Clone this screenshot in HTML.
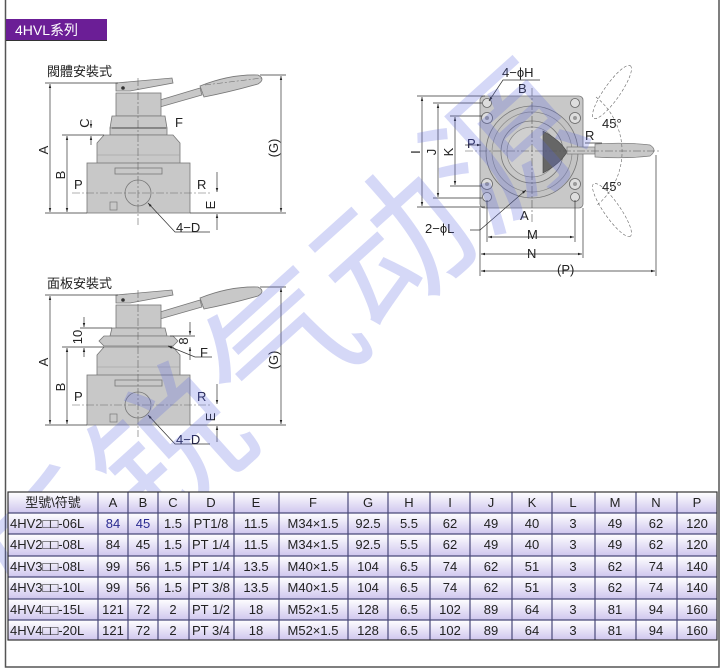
<!DOCTYPE html>
<html><head><meta charset="utf-8">
<style>
html,body{margin:0;padding:0;background:#fff;}
body{width:723px;height:669px;position:relative;overflow:hidden;font-family:"Liberation Sans","Noto Sans CJK TC",sans-serif;}
svg{position:absolute;left:0;top:0;overflow:hidden;}
text{font-family:"Liberation Sans","Noto Sans CJK TC",sans-serif;}
</style></head><body>
<svg width="723" height="669" viewBox="0 0 723 669" xmlns="http://www.w3.org/2000/svg">
<defs>
<linearGradient id="rg" x1="0" y1="0" x2="0" y2="1">
<stop offset="0" stop-color="#ffffff"/><stop offset="1" stop-color="#cfc6ee"/></linearGradient>
<marker id="ar" viewBox="0 0 10 10" refX="10" refY="5" markerWidth="6" markerHeight="6" orient="auto-start-reverse"><path d="M0,2 L10,5 L0,8z" fill="#222"/></marker>
<clipPath id="pg"><rect x="0" y="0" width="723" height="669"/></clipPath>
</defs>
<polyline points="5.5,0 5.5,667 719,667 719,0" fill="none" stroke="#555" stroke-width="1.5"/>
<rect x="6" y="19" width="101" height="21" fill="#6b1e96"/>
<line x1="6" y1="40.5" x2="107" y2="40.5" stroke="#333" stroke-width="1"/>
<text x="15" y="35" font-size="14" fill="#fff">4HVL系列</text>

<g id="valve">
<g fill="#c8c8c8" stroke="#777" stroke-width="0.8">
<path d="M116,83 L172,78 L173,83 L130,91 L116,91z"/>
<path d="M160,100 L200,88 L202,95 L160,107z"/>
<path d="M200,86 Q230,74 258,75 Q266,79 258,84 Q230,92 204,97z"/>
<rect x="116" y="93" width="45" height="23"/>
<path d="M112,116 L165,116 L167,128 L110,128z"/>
<rect x="110" y="128" width="57" height="7"/>
<path d="M104,135 L173,135 L180,143 L180,165 L97,165 L97,143z"/>
<rect x="87" y="163" width="103" height="50"/>
<rect x="115" y="168" width="47" height="6"/>
<circle cx="138" cy="193" r="13" fill="#c8c8c8"/>
</g>
<line x1="97" y1="155" x2="180" y2="155" stroke="#999" stroke-width="0.6"/>
<rect x="110" y="202" width="7" height="8" fill="none" stroke="#777" stroke-width="0.7"/>
<circle cx="123" cy="88" r="1.8" fill="#333"/>
<line x1="138" y1="78" x2="138" y2="225" stroke="#666" stroke-width="0.6" stroke-dasharray="8,2,2,2"/>
<line x1="72" y1="193" x2="210" y2="193" stroke="#666" stroke-width="0.6" stroke-dasharray="8,2,2,2"/>
<line x1="205" y1="85" x2="262" y2="78" stroke="#666" stroke-width="0.5" stroke-dasharray="6,2,2,2"/>
<g stroke="#333" stroke-width="0.7" fill="none">
<line x1="45" y1="83" x2="118" y2="83"/>
<line x1="45" y1="213" x2="87" y2="213"/>
<line x1="50" y1="84" x2="50" y2="212" marker-start="url(#ar)" marker-end="url(#ar)"/>
<line x1="62" y1="135" x2="104" y2="135"/>
<line x1="67" y1="136" x2="67" y2="212" marker-start="url(#ar)" marker-end="url(#ar)"/>
<line x1="91" y1="120" x2="91" y2="128" marker-end="url(#ar)"/>
<line x1="91" y1="145" x2="91" y2="136" marker-end="url(#ar)"/>
<line x1="260" y1="75" x2="286" y2="75"/>
<line x1="190" y1="213" x2="286" y2="213"/>
<line x1="281" y1="76" x2="281" y2="212" marker-start="url(#ar)" marker-end="url(#ar)"/>
<line x1="217" y1="172" x2="217" y2="192" marker-end="url(#ar)"/>
<line x1="217" y1="230" x2="217" y2="214" marker-end="url(#ar)"/>
<line x1="112" y1="128" x2="166" y2="128"/>
<polyline points="210,232 175,232 148,203" marker-end="url(#ar)"/>
</g>
<g font-size="13" fill="#222">
<text x="74" y="189">P</text><text x="197" y="189">R</text>
<text x="175" y="127">F</text><text x="176" y="232">4−D</text>
<text transform="translate(48,150) rotate(-90)" text-anchor="middle">A</text>
<text transform="translate(65,175) rotate(-90)" text-anchor="middle">B</text>
<text transform="translate(89,123) rotate(-90)" text-anchor="middle">C</text>
<text transform="translate(215,205) rotate(-90)" text-anchor="middle">E</text>
<text transform="translate(278,148) rotate(-90)" text-anchor="middle">(G)</text>
</g>
</g>
<text x="47" y="76" font-size="13" fill="#222">閥體安裝式</text>

<g transform="translate(0,212)">
<g fill="#c8c8c8" stroke="#777" stroke-width="0.8">
<path d="M116,83 L172,78 L173,83 L130,91 L116,91z"/>
<path d="M160,100 L200,88 L202,95 L160,107z"/>
<path d="M200,86 Q230,74 258,75 Q266,79 258,84 Q230,92 204,97z"/>
<rect x="116" y="93" width="45" height="23"/>
<path d="M112,116 L165,116 L167,124 L110,124z"/>
<path d="M104,124 L173,124 L178,129 L173,134 L104,134 L99,129z"/>
<path d="M104,135 L173,135 L180,143 L180,165 L97,165 L97,143z"/>
<rect x="87" y="163" width="103" height="50"/>
<rect x="115" y="168" width="47" height="6"/>
<circle cx="138" cy="193" r="13"/>
</g>
<line x1="97" y1="155" x2="180" y2="155" stroke="#999" stroke-width="0.6"/>
<rect x="110" y="202" width="7" height="8" fill="none" stroke="#777" stroke-width="0.7"/>
<circle cx="123" cy="88" r="1.8" fill="#333"/>
<line x1="138" y1="78" x2="138" y2="225" stroke="#666" stroke-width="0.6" stroke-dasharray="8,2,2,2"/>
<line x1="72" y1="193" x2="210" y2="193" stroke="#666" stroke-width="0.6" stroke-dasharray="8,2,2,2"/>
<g stroke="#333" stroke-width="0.7" fill="none">
<line x1="45" y1="83" x2="118" y2="83"/>
<line x1="45" y1="213" x2="87" y2="213"/>
<line x1="50" y1="84" x2="50" y2="212" marker-start="url(#ar)" marker-end="url(#ar)"/>
<line x1="62" y1="135" x2="104" y2="135"/>
<line x1="67" y1="136" x2="67" y2="212" marker-start="url(#ar)" marker-end="url(#ar)"/>
<line x1="80" y1="116" x2="112" y2="116"/>
<line x1="84" y1="105" x2="84" y2="115" marker-end="url(#ar)"/>
<line x1="84" y1="145" x2="84" y2="136" marker-end="url(#ar)"/>
<line x1="170" y1="124" x2="195" y2="124"/>
<line x1="190" y1="110" x2="190" y2="123" marker-end="url(#ar)"/>
<line x1="190" y1="148" x2="190" y2="135" marker-end="url(#ar)"/>
<line x1="260" y1="75" x2="286" y2="75"/>
<line x1="190" y1="213" x2="286" y2="213"/>
<line x1="281" y1="76" x2="281" y2="212" marker-start="url(#ar)" marker-end="url(#ar)"/>
<line x1="217" y1="172" x2="217" y2="192" marker-end="url(#ar)"/>
<line x1="217" y1="230" x2="217" y2="214" marker-end="url(#ar)"/>
<polyline points="210,232 175,232 148,203" marker-end="url(#ar)"/>
<polyline points="212,145 195,145 168,134" marker-end="url(#ar)"/>
</g>
<g font-size="13" fill="#222">
<text x="74" y="189">P</text><text x="197" y="189" fill="#224">R</text>
<text x="200" y="145">F</text><text x="176" y="232" fill="#224">4−D</text>
<text transform="translate(48,150) rotate(-90)" text-anchor="middle">A</text>
<text transform="translate(65,175) rotate(-90)" text-anchor="middle">B</text>
<text transform="translate(82,125) rotate(-90)" text-anchor="middle">10</text>
<text transform="translate(188,129) rotate(-90)" text-anchor="middle">8</text>
<text transform="translate(215,205) rotate(-90)" text-anchor="middle">E</text>
<text transform="translate(278,148) rotate(-90)" text-anchor="middle">(G)</text>
</g>
</g>
<text x="47" y="288" font-size="13" fill="#222">面板安裝式</text>

<g>
<rect x="480" y="96" width="103" height="112" rx="4" fill="#c8c8c8" stroke="#777" stroke-width="0.8"/>
<circle cx="532" cy="152" r="46" fill="#c4c4c4" stroke="#777" stroke-width="0.8"/>
<circle cx="532" cy="152" r="40" fill="none" stroke="#888" stroke-width="0.7"/>
<circle cx="532" cy="152" r="31" fill="#c8c8c8" stroke="#777" stroke-width="0.8"/>
<circle cx="532" cy="152" r="25" fill="#cfcfcf" stroke="#888" stroke-width="0.7"/>
<path d="M543,131 Q560,140 567,152 Q560,164 543,173z" fill="#666" stroke="#444" stroke-width="0.6"/>
<g fill="#ddd" stroke="#666" stroke-width="0.8">
<circle cx="487" cy="103" r="4.5"/><circle cx="575" cy="103" r="4.5"/>
<circle cx="487" cy="197" r="4.5"/><circle cx="575" cy="197" r="4.5"/>
<circle cx="487" cy="118" r="5.5"/><circle cx="575" cy="118" r="5.5"/>
<circle cx="487" cy="184" r="5.5"/><circle cx="575" cy="184" r="5.5"/>
</g>
<g fill="#999"><circle cx="487" cy="118" r="2"/><circle cx="575" cy="118" r="2"/><circle cx="487" cy="184" r="2"/><circle cx="575" cy="184" r="2"/></g>
<rect x="567" y="147" width="28" height="7" fill="#c8c8c8" stroke="#777" stroke-width="0.7"/>
<path d="M595,144 Q625,142 650,145 Q658,150 650,156 Q625,159 595,157z" fill="#c8c8c8" stroke="#777" stroke-width="0.7"/>
<g fill="none" stroke="#666" stroke-width="0.6" stroke-dasharray="3,2">
<ellipse cx="612" cy="92" rx="32" ry="8" transform="rotate(-55 612 92)"/>
<ellipse cx="612" cy="210" rx="32" ry="8" transform="rotate(55 612 210)"/>
<path d="M596,97 A70,70 0 0 1 596,206"/>
</g>
<line x1="532" y1="88" x2="532" y2="222" stroke="#555" stroke-width="0.6" stroke-dasharray="8,2,2,2"/>
<line x1="465" y1="151" x2="660" y2="151" stroke="#555" stroke-width="0.6" stroke-dasharray="8,2,2,2"/>
<g stroke="#333" stroke-width="0.7" fill="none">
<line x1="417" y1="96" x2="485" y2="96"/><line x1="417" y1="207" x2="485" y2="207"/>
<line x1="422" y1="97" x2="422" y2="206" marker-start="url(#ar)" marker-end="url(#ar)"/>
<line x1="433" y1="103" x2="482" y2="103"/><line x1="433" y1="198" x2="482" y2="198"/>
<line x1="438" y1="104" x2="438" y2="197" marker-start="url(#ar)" marker-end="url(#ar)"/>
<line x1="450" y1="116" x2="482" y2="116"/><line x1="450" y1="186" x2="482" y2="186"/>
<line x1="455" y1="117" x2="455" y2="185" marker-start="url(#ar)" marker-end="url(#ar)"/>
<line x1="487" y1="200" x2="487" y2="242"/><line x1="575" y1="200" x2="575" y2="242"/>
<line x1="488" y1="237" x2="574" y2="237" marker-start="url(#ar)" marker-end="url(#ar)"/>
<line x1="480" y1="208" x2="480" y2="276"/><line x1="583" y1="208" x2="583" y2="258"/>
<line x1="481" y1="254" x2="582" y2="254" marker-start="url(#ar)" marker-end="url(#ar)"/>
<line x1="656" y1="155" x2="656" y2="276"/>
<line x1="481" y1="271" x2="655" y2="271" marker-start="url(#ar)" marker-end="url(#ar)"/>
<line x1="465" y1="145" x2="481" y2="145" marker-end="url(#ar)"/>
<line x1="585" y1="143" x2="602" y2="143"/>
<polyline points="540,80 503,80 489,101" marker-end="url(#ar)"/>
<polyline points="470,230 480,230 526,190" marker-end="url(#ar)"/>
</g>
<g font-size="13" fill="#222">
<text x="502" y="77">4−ϕH</text><text x="518" y="93">B</text>
<text x="467" y="148" fill="#224">P</text><text x="585" y="140">R</text>
<text x="602" y="128">45°</text><text x="602" y="191">45°</text>
<text x="520" y="220">A</text><text x="425" y="233">2−ϕL</text>
<text x="527" y="239">M</text><text x="527" y="258">N</text><text x="557" y="274">(P)</text>
<text transform="translate(420,152) rotate(-90)" text-anchor="middle">I</text>
<text transform="translate(436,152) rotate(-90)" text-anchor="middle">J</text>
<text transform="translate(453,152) rotate(-90)" text-anchor="middle">K</text>
</g>
</g>

<g clip-path="url(#pg)">
<g fill="#5a68e0" opacity="0.25" font-size="150" font-family="Noto Sans CJK SC, sans-serif">
<text transform="translate(40,640) rotate(-42)">乐锐气动源</text>
</g>
</g>

<g font-size="13" fill="#222">
<rect x="8" y="492" width="709" height="148" fill="#fff" stroke="#444" stroke-width="1"/>
<rect x="8" y="492" width="709" height="21" fill="url(#rg)"/>
<rect x="8" y="513" width="709" height="21" fill="url(#rg)"/>
<rect x="8" y="534" width="709" height="22" fill="url(#rg)"/>
<rect x="8" y="556" width="709" height="21" fill="url(#rg)"/>
<rect x="8" y="577" width="709" height="22" fill="url(#rg)"/>
<rect x="8" y="599" width="709" height="21" fill="url(#rg)"/>
<rect x="8" y="620" width="709" height="20" fill="url(#rg)"/>
<g stroke="#4a4a7a" stroke-width="1.2">
<line x1="8" y1="513" x2="717" y2="513"/><line x1="8" y1="534" x2="717" y2="534"/>
<line x1="8" y1="556" x2="717" y2="556"/><line x1="8" y1="577" x2="717" y2="577"/>
<line x1="8" y1="599" x2="717" y2="599"/><line x1="8" y1="620" x2="717" y2="620"/>
<line x1="98" y1="492" x2="98" y2="640"/><line x1="128" y1="492" x2="128" y2="640"/>
<line x1="158" y1="492" x2="158" y2="640"/><line x1="189" y1="492" x2="189" y2="640"/>
<line x1="234" y1="492" x2="234" y2="640"/><line x1="279" y1="492" x2="279" y2="640"/>
<line x1="348" y1="492" x2="348" y2="640"/><line x1="388" y1="492" x2="388" y2="640"/>
<line x1="430" y1="492" x2="430" y2="640"/><line x1="470" y1="492" x2="470" y2="640"/>
<line x1="512" y1="492" x2="512" y2="640"/><line x1="552" y1="492" x2="552" y2="640"/>
<line x1="595" y1="492" x2="595" y2="640"/><line x1="636" y1="492" x2="636" y2="640"/>
<line x1="677" y1="492" x2="677" y2="640"/>
<rect x="8" y="492" width="709" height="148" fill="none" stroke="#333"/>
</g>
<g text-anchor="middle">
<text x="53" y="507">型號\符號</text><text x="113" y="507">A</text><text x="143" y="507">B</text><text x="173" y="507">C</text><text x="211" y="507">D</text><text x="256" y="507">E</text><text x="313" y="507">F</text><text x="368" y="507">G</text><text x="409" y="507">H</text><text x="450" y="507">I</text><text x="491" y="507">J</text><text x="532" y="507">K</text><text x="573" y="507">L</text><text x="615" y="507">M</text><text x="656" y="507">N</text><text x="697" y="507">P</text>
</g>
<g text-anchor="middle">
<g transform="translate(0,528)"><text x="10" text-anchor="start">4HV2□□-06L</text><text x="113" fill="#2a2a90">84</text><text x="143" fill="#2a2a90">45</text><text x="173">1.5</text><text x="211">PT1/8</text><text x="256">11.5</text><text x="313">M34×1.5</text><text x="368">92.5</text><text x="409">5.5</text><text x="450">62</text><text x="491">49</text><text x="532">40</text><text x="573">3</text><text x="615">49</text><text x="656">62</text><text x="697">120</text></g>
<g transform="translate(0,549)"><text x="10" text-anchor="start">4HV2□□-08L</text><text x="113">84</text><text x="143">45</text><text x="173">1.5</text><text x="211">PT 1/4</text><text x="256">11.5</text><text x="313">M34×1.5</text><text x="368">92.5</text><text x="409">5.5</text><text x="450">62</text><text x="491">49</text><text x="532">40</text><text x="573">3</text><text x="615">49</text><text x="656">62</text><text x="697">120</text></g>
<g transform="translate(0,571)"><text x="10" text-anchor="start">4HV3□□-08L</text><text x="113">99</text><text x="143">56</text><text x="173">1.5</text><text x="211">PT 1/4</text><text x="256">13.5</text><text x="313">M40×1.5</text><text x="368">104</text><text x="409">6.5</text><text x="450">74</text><text x="491">62</text><text x="532">51</text><text x="573">3</text><text x="615">62</text><text x="656">74</text><text x="697">140</text></g>
<g transform="translate(0,592)"><text x="10" text-anchor="start">4HV3□□-10L</text><text x="113">99</text><text x="143">56</text><text x="173">1.5</text><text x="211">PT 3/8</text><text x="256">13.5</text><text x="313">M40×1.5</text><text x="368">104</text><text x="409">6.5</text><text x="450">74</text><text x="491">62</text><text x="532">51</text><text x="573">3</text><text x="615">62</text><text x="656">74</text><text x="697">140</text></g>
<g transform="translate(0,614)"><text x="10" text-anchor="start">4HV4□□-15L</text><text x="113">121</text><text x="143">72</text><text x="173">2</text><text x="211">PT 1/2</text><text x="256">18</text><text x="313">M52×1.5</text><text x="368">128</text><text x="409">6.5</text><text x="450">102</text><text x="491">89</text><text x="532">64</text><text x="573">3</text><text x="615">81</text><text x="656">94</text><text x="697">160</text></g>
<g transform="translate(0,635)"><text x="10" text-anchor="start">4HV4□□-20L</text><text x="113">121</text><text x="143">72</text><text x="173">2</text><text x="211">PT 3/4</text><text x="256">18</text><text x="313">M52×1.5</text><text x="368">128</text><text x="409">6.5</text><text x="450">102</text><text x="491">89</text><text x="532">64</text><text x="573">3</text><text x="615">81</text><text x="656">94</text><text x="697">160</text></g>
</g>
</g>
</svg>
</body></html>
